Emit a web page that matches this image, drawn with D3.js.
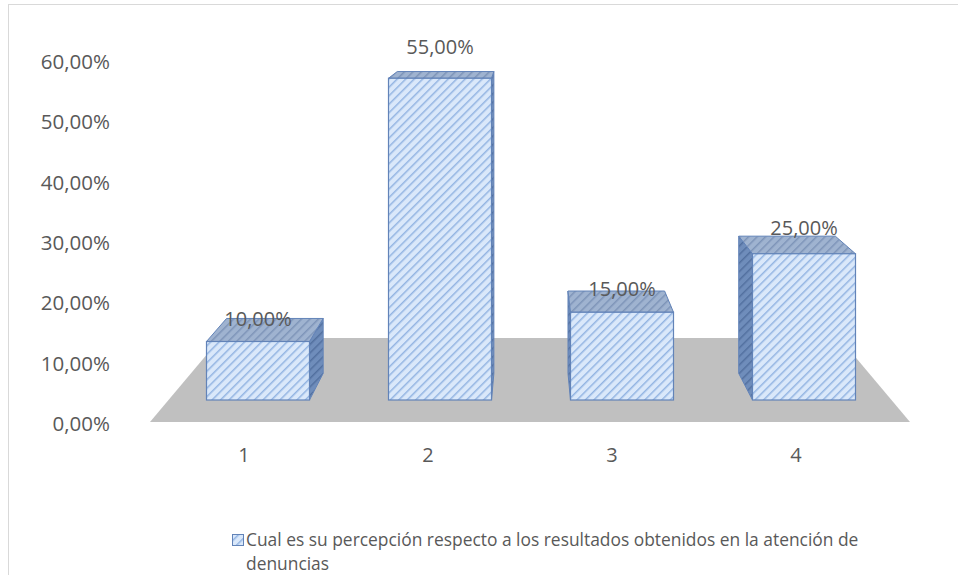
<!DOCTYPE html>
<html>
<head>
<meta charset="utf-8">
<script src="https://cdn.jsdelivr.net/npm/d3@7"></script>
<style>
  body { margin: 0; background: #fff; }
  text { font-family: "Open Sans", "Noto Sans", sans-serif; fill: #595959; }
</style>
</head>
<body>
<svg id="chart" width="958" height="575"></svg>
<script>
// chart data
const categories = ["1", "2", "3", "4"];
const values = [10, 55, 15, 25];
const yTicks = [0, 10, 20, 30, 40, 50, 60];
const seriesName = ["Cual es su percepción respecto a los resultados obtenidos en la atención de", "denuncias"];

const svg = d3.select("#chart");
const fmt = d => d3.format(".2f")(d).replace(".", ",") + "%";

// outer chart frame (only left and top edges fall inside the picture)
svg.append("rect")
  .attr("x", 8.5).attr("y", 4.5)
  .attr("width", 1000).attr("height", 1000)
  .attr("fill", "none").attr("stroke", "#d9d9d9");

// scales: axis (back wall) and bar fronts
const yAxis = d3.scaleLinear().domain([0, 60]).range([424, 62]);
const yBar = d3.scaleLinear().domain([0, 60]).range([400, 49]);
const xBar = d3.scalePoint().domain(categories).range([167, 895]).padding(0.5);
const xLab = d3.scalePoint().domain(categories).range([152, 888]).padding(0.5);
const barW = 103;

// perspective helper: move a point toward the vanishing point
const vp = [530, -30];
const back = (p, k) => [p[0] + k * (vp[0] - p[0]), p[1] + k * (vp[1] - p[1])];
const barDepth = 0.062;

// patterns
const defs = svg.append("defs");
function hatch(id, bg, line, size) {
  const p = defs.append("pattern")
    .attr("id", id)
    .attr("patternUnits", "userSpaceOnUse")
    .attr("width", size).attr("height", size)
    .attr("patternTransform", "rotate(45)");
  p.append("rect").attr("width", size).attr("height", size).attr("fill", bg);
  p.append("line").attr("x1", 0).attr("y1", 0).attr("x2", 0).attr("y2", size)
    .attr("stroke", line).attr("stroke-width", 3);
}
hatch("hFront", "#dae8fa", "#93b4e2", 6);
hatch("hTop", "#9fb3d0", "#7d94b8", 6);
hatch("hSide", "#6f8dbb", "#52709f", 6);

// floor
const floorFrontY = 422, floorL = 150, floorR = 910, floorDepth = 0.186;
const floorPts = [[floorL, floorFrontY], [floorR, floorFrontY],
  back([floorR, floorFrontY], floorDepth), back([floorL, floorFrontY], floorDepth)];
svg.append("polygon")
  .attr("points", floorPts.map(p => p.join(",")).join(" "))
  .attr("fill", "#c0c0c0");

// y axis labels
svg.append("g").selectAll("text")
  .data(yTicks)
  .join("text")
    .attr("x", 110)
    .attr("y", d => yAxis(d) + 7)
    .attr("text-anchor", "end")
    .attr("font-size", 20.5)
    .text(fmt);

// category labels
svg.append("g").selectAll("text")
  .data(categories)
  .join("text")
    .attr("x", d => xLab(d))
    .attr("y", 462)
    .attr("text-anchor", "middle")
    .attr("font-size", 20)
    .text(d => d);

// bars
const bars = svg.append("g").selectAll("g")
  .data(categories.map((c, i) => ({ c, v: values[i] })))
  .join("g");

const poly = pts => pts.map(p => p.join(",")).join(" ");
const stroke = "#6283b8";

bars.each(function(d) {
  const g = d3.select(this);
  const x0 = xBar(d.c) - barW / 2, x1 = xBar(d.c) + barW / 2;
  const yT = yBar(d.v), yB = yBar(0);
  const ftl = [x0, yT], ftr = [x1, yT], fbl = [x0, yB], fbr = [x1, yB];
  const btl = back(ftl, barDepth), btr = back(ftr, barDepth);
  const bbl = back(fbl, barDepth), bbr = back(fbr, barDepth);
  // visible side face
  const side = xBar(d.c) < vp[0] ? [ftr, btr, bbr, fbr] : [ftl, btl, bbl, fbl];
  g.append("polygon").attr("points", poly(side))
    .attr("fill", "url(#hSide)").attr("stroke", stroke).attr("stroke-width", 1);
  g.append("polygon").attr("points", poly([ftl, ftr, btr, btl]))
    .attr("fill", "url(#hTop)").attr("stroke", stroke).attr("stroke-width", 1);
  g.append("rect")
    .attr("x", x0).attr("y", yT)
    .attr("width", barW).attr("height", yB - yT)
    .attr("fill", "url(#hFront)").attr("stroke", stroke).attr("stroke-width", 1.2);
});

// data labels
svg.append("g").selectAll("text")
  .data(values)
  .join("text")
    .attr("x", (d, i) => xBar(categories[i]))
    .attr("y", d => yAxis(d) - 38)
    .attr("text-anchor", "middle")
    .attr("font-size", 20)
    .text(fmt);

// legend
const leg = svg.append("g");
leg.append("rect")
  .attr("x", 232.5).attr("y", 534.5).attr("width", 11).attr("height", 11)
  .attr("fill", "url(#hFront)").attr("stroke", stroke);
leg.selectAll("text")
  .data(seriesName)
  .join("text")
    .attr("x", 246)
    .attr("y", (d, i) => 546 + i * 24)
    .attr("font-size", 17.4)
    .text(d => d);
</script>
</body>
</html>
